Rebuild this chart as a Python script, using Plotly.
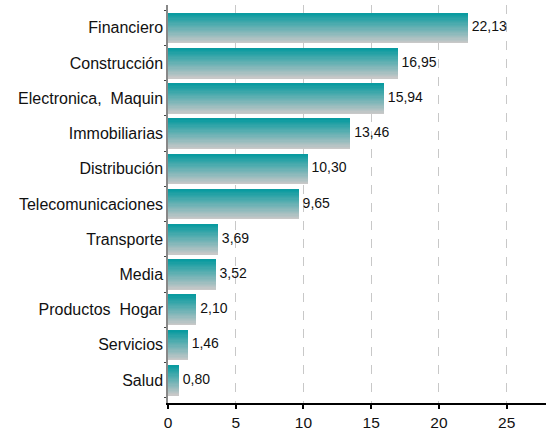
import plotly.graph_objects as go

categories = ["Financiero", "Construcción", "Electronica,  Maquin", "Immobiliarias",
              "Distribución", "Telecomunicaciones", "Transporte", "Media",
              "Productos  Hogar", "Servicios", "Salud"]
values = [22.13, 16.95, 15.94, 13.46, 10.30, 9.65, 3.69, 3.52, 2.10, 1.46, 0.80]
x_ticks = [0, 5, 10, 15, 20, 25]

labels = [" " + f"{v:.2f}".replace(".", ",") for v in values]

top_rgb = (10, 155, 160)
bot_rgb = (200, 200, 200)
N = 24
bar_w = 0.85

fig = go.Figure()
for i in range(N):
    t = i / (N - 1)  # 0 = bottom, 1 = top
    c = tuple(round(bot_rgb[k] + (top_rgb[k] - bot_rgb[k]) * t) for k in range(3))
    fig.add_trace(go.Bar(
        x=values, y=categories, orientation="h",
        width=bar_w / N + 0.002, offset=-bar_w / 2 + i * bar_w / N,
        marker=dict(color=f"rgb{c}", line=dict(width=0)),
        hoverinfo="skip", showlegend=False,
    ))

fig.add_trace(go.Scatter(
    x=values, y=categories, mode="text", text=labels,
    textposition="middle right",
    textfont=dict(family="Liberation Sans, Arial", size=14, color="#111"),
    showlegend=False, cliponaxis=False,
))

fig.update_layout(
    width=558, height=430,
    margin=dict(l=168, r=12, t=5, b=27),
    paper_bgcolor="white", plot_bgcolor="white",
    barmode="overlay", bargap=0,
    font=dict(family="Liberation Sans, Arial", color="#111"),
)
fig.update_xaxes(
    range=[0, 27.9], tickvals=x_ticks, ticktext=[str(t) for t in x_ticks],
    showgrid=True, gridcolor="#c8c8c8", griddash="dash", gridwidth=1,
    zeroline=False, showline=True, linecolor="black", linewidth=2,
    ticks="outside", ticklen=4, tickwidth=2, tickcolor="black",
    tickfont=dict(size=15.5), automargin=False, ticklabelstandoff=0,
)
fig.update_yaxes(
    type="category", categoryorder="array", categoryarray=categories[::-1],
    range=[-0.65, 10.65], showgrid=False, zeroline=False,
    showline=True, linecolor="#888", linewidth=1.5,
    ticks="outside", ticklen=2, tickcolor="#444", tickson="boundaries",
    tickfont=dict(size=16), automargin=False, ticklabelstandoff=0,
)

fig.write_html("out.html", config={"displayModeBar": False},
               post_script="document.body.style.margin='0';")
